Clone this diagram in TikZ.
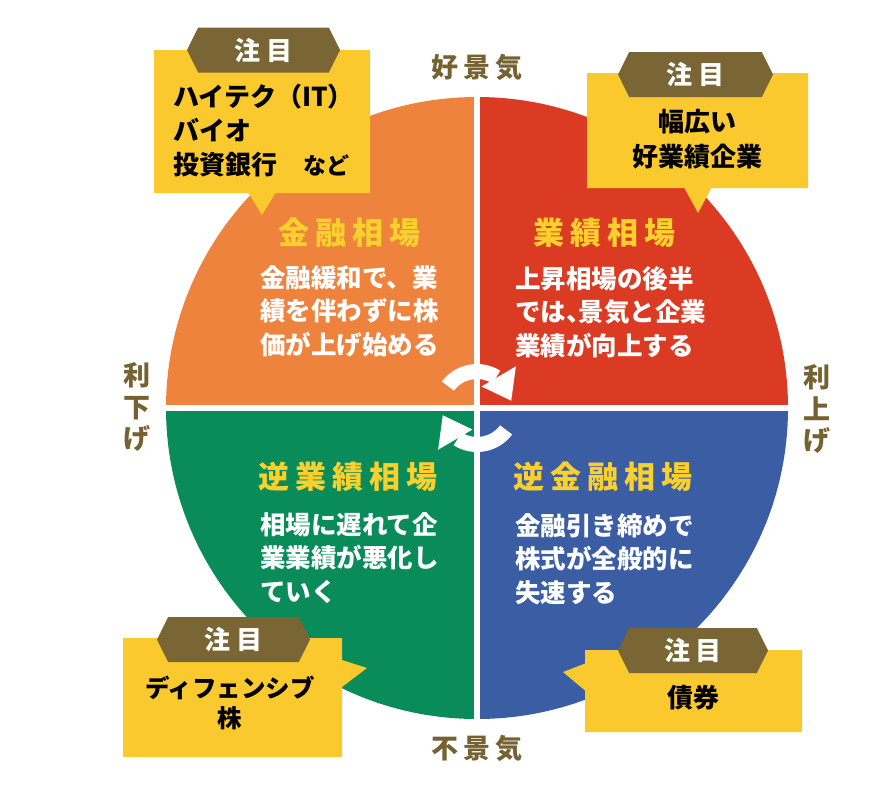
\documentclass[tikz,border=0pt]{standalone}
\usepackage{fontspec}
\setmainfont{Noto Sans CJK JP}
\usetikzlibrary{calc,shapes.callouts,shapes.symbols}
\definecolor{qorange}{RGB}{238,131,62}
\definecolor{qred}{RGB}{219,58,35}
\definecolor{qgreen}{RGB}{9,139,90}
\definecolor{qblue}{RGB}{58,93,163}
\definecolor{ttl}{RGB}{250,208,45}
\definecolor{boxy}{RGB}{249,201,46}
\definecolor{badgec}{RGB}{122,102,52}
\definecolor{sidec}{RGB}{118,98,48}
\newcommand\tk{\kern6pt}
\newcommand\bk{\kern6pt}
\newcommand\sk{\kern5pt}
\begin{document}
\begin{tikzpicture}[x=1pt,y=-1pt,
 qtitle/.style={anchor=west,inner sep=0pt,text=ttl,font=\fontsize{31}{31}\selectfont\bfseries},
 qbody/.style={anchor=west,inner sep=0pt,text=white,align=left,font=\fontsize{25.5}{33.5}\selectfont\bfseries},
 callbox/.style={rectangle callout,fill=boxy,inner sep=0pt,callout pointer width=27pt},
 badgehex/.style={signal,signal to=east and west,signal pointer angle=127,fill=badgec,inner sep=0pt,minimum height=45pt,text=white,font=\fontsize{26}{26}\selectfont\bfseries},
 boxtext/.style={inner sep=0pt,text=black,font=\fontsize{26}{34}\selectfont\bfseries},
 side/.style={inner sep=0pt,text=sidec,font=\fontsize{27}{31.5}\selectfont\bfseries,align=center},
 cyc/.style={fill=white}
 ]
\useasboundingbox (0,0) rectangle (890,788);
\fill[white] (0,0) rectangle (890,788);

% circle quadrants
\coordinate (O) at (477,408);
\fill[qorange] (O) -- ++(180:311) arc[start angle=180,end angle=270,radius=311] -- cycle;
\fill[qred] (O) -- ++(270:311) arc[start angle=270,end angle=360,radius=311] -- cycle;
\fill[qblue] (O) -- ++(0:311) arc[start angle=0,end angle=90,radius=311] -- cycle;
\fill[qgreen] (O) -- ++(90:311) arc[start angle=90,end angle=180,radius=311] -- cycle;
\draw[white,line width=5.5pt] ($(O)+(0,-315)$) -- ($(O)+(0,315)$);
\draw[white,line width=5.5pt] ($(O)+(-315,0)$) -- ($(O)+(315,0)$);

% cycle arrows
\fill[cyc] ($(O)+(-143:44)$) arc[start angle=-143,end angle=-58,radius=44]
  -- ($(O)+(-58:29)$) arc[start angle=-58,end angle=-143,radius=29] -- cycle;
\fill[cyc] ($(O)+(-78:22)$) -- ($(O)+(-47:57)$) -- ($(O)+(-12:35)$) -- cycle;
\fill[cyc] ($(O)+(37:44)$) arc[start angle=37,end angle=122,radius=44]
  -- ($(O)+(122:29)$) arc[start angle=122,end angle=37,radius=29] -- cycle;
\fill[cyc] ($(O)+(102:22)$) -- ($(O)+(133:57)$) -- ($(O)+(168:35)$) -- cycle;

% quadrant texts
\node[qtitle] (t1) at (278,233) {金\tk 融\tk 相\tk 場};
\node[qbody] (b1) at (260,311) {金融緩和で、業\\績を伴わずに株\\価が上げ始める};
\node[qtitle] (t2) at (533,233) {業\tk 績\tk 相\tk 場};
\node[qbody] (b2) at (515,312) {上昇相場の後半\\では、\kern-12.75pt 景気と企業\\業績が向上する};
\node[qtitle] (t3) at (258,477) {逆\tk 業\tk 績\tk 相\tk 場};
\node[qbody] (b3) at (260,558) {相場に遅れて企\\業業績が悪化し\\ていく};
\node[qtitle] (t4) at (513,477) {逆\tk 金\tk 融\tk 相\tk 場};
\node[qbody] (b4) at (515,559) {金融引き締めで\\株式が全般的に\\失速する};

% callouts
\node[callbox,minimum width=216pt,minimum height=143pt,callout absolute pointer={(262,215)}] (c1) at (262,121.5) {};
\node[badgehex,minimum width=153pt] (g1) at (263.5,50) {注\bk 目};
\node[boxtext,anchor=west,align=left] (x1) at (173,131) {ハイテク（IT）\\バイオ\\投資銀行　{\fontsize{23}{23}\selectfont など}};

\node[callbox,minimum width=221pt,minimum height=115pt,callout absolute pointer={(698,213)}] (c2) at (697.5,130.5) {};
\node[badgehex,minimum width=155pt] (g2) at (695.5,74.5) {注\bk 目};
\node[boxtext,align=center,font=\fontsize{26}{35}\selectfont\bfseries] (x2) at (697,139.5) {幅広い\\好業績企業};

\node[callbox,minimum width=219pt,minimum height=119pt,callout absolute pointer={(367,668)}] (c3) at (232.5,697.5) {};
\node[badgehex,minimum width=153pt] (g3) at (233.5,639.5) {注\bk 目};
\node[boxtext,align=center,font=\fontsize{24.5}{30}\selectfont\bfseries] (x3) at (230,703) {ディフェンシブ\\株};

\node[callbox,minimum width=217pt,minimum height=82pt,callout absolute pointer={(563,672)}] (c4) at (693.5,691) {};
\node[badgehex,minimum width=150pt] (g4) at (693,650.5) {注\bk 目};
\node[boxtext] (x4) at (693,698) {債券};

% side labels
\node[side] (top) at (477,67) {好\sk 景\sk 気};
\node[side] (bot) at (477,748) {不\sk 景\sk 気};
\node[side] (lft) at (137,407) {利\\下\\げ};
\node[side] (rgt) at (817,409) {利\\上\\げ};
\end{tikzpicture}
\end{document}
